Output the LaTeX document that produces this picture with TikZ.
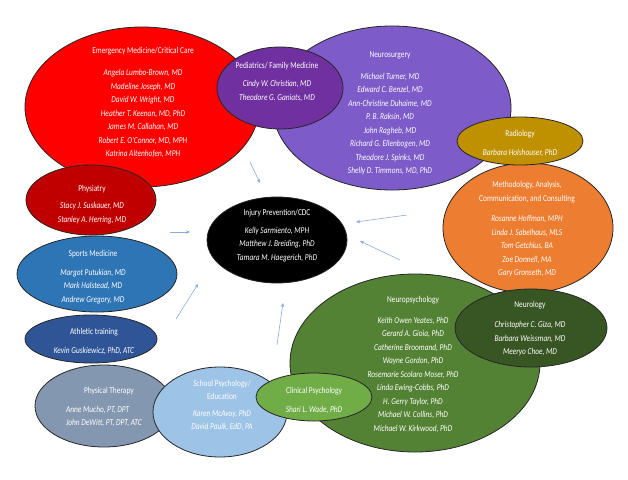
\documentclass[tikz,border=0pt]{standalone}
\usepackage{fontspec}
\setmainfont{Carlito}[FakeStretch=0.82]
\usetikzlibrary{shapes.geometric,arrows.meta}
\definecolor{EmRed}{HTML}{FF0000}
\definecolor{PedPurple}{HTML}{7030A0}
\definecolor{NsPurple}{HTML}{7D5BC8}
\definecolor{RadGold}{HTML}{BF9000}
\definecolor{MethOrange}{HTML}{ED7D31}
\definecolor{PhysRed}{HTML}{C00000}
\definecolor{SportBlue}{HTML}{2E75B6}
\definecolor{AthBlue}{HTML}{2F5597}
\definecolor{PtGray}{HTML}{8497B0}
\definecolor{SchBlue}{HTML}{9DC3E6}
\definecolor{ClinGreen}{HTML}{70AD47}
\definecolor{NpsyGreen}{HTML}{548235}
\definecolor{NeuroGreen}{HTML}{375623}
\definecolor{ArrowBlue}{HTML}{8FAADC}
\newcommand{\nm}[1]{\textit{#1}}

\begin{document}
\begin{tikzpicture}[x=1pt, y=-1pt, every node/.style={font=\fontsize{9}{13.5}\selectfont}]
    \tikzstyle{blob}=[draw=black!85, line width=0.8pt, ellipse, inner sep=0pt]
    \tikzstyle{txt}=[text=white, align=center, inner sep=0pt]
    \tikzstyle{arw}=[-{Stealth[length=4pt,width=3.5pt]}, ArrowBlue, line width=0.6pt]
    \useasboundingbox (0,0) rectangle (628,479);
    % ovals, back to front
    \node[blob, fill=EmRed, minimum width=234pt, minimum height=160pt] (em) at (142,107) {};
    \node[blob, fill=NsPurple, minimum width=238pt, minimum height=164pt] (ns) at (392,108) {};
    \node[blob, fill=PedPurple, minimum width=126pt, minimum height=82pt] (ped) at (280,88) {};
    \node[blob, fill=MethOrange, minimum width=170pt, minimum height=130pt] (meth) at (528,228) {};
    \node[blob, fill=RadGold, minimum width=126pt, minimum height=48pt] (rad) at (520,141) {};
    \node[blob, fill=PhysRed, minimum width=130pt, minimum height=70pt] (phys) at (91,200) {};
    \node[blob, fill=SportBlue, minimum width=160pt, minimum height=76pt] (sport) at (97,274) {};
    \node[blob, fill=AthBlue, minimum width=132pt, minimum height=48pt] (ath) at (91,339) {};
    \node[blob, fill=NpsyGreen, minimum width=250pt, minimum height=178pt] (npsy) at (415,363) {};
    \node[blob, fill=NeuroGreen, minimum width=152pt, minimum height=78pt] (neuro) at (531,328) {};
    \node[blob, fill=PtGray, minimum width=138pt, minimum height=82pt] (pt) at (104,406) {};
    \node[blob, fill=SchBlue, minimum width=134pt, minimum height=90pt] (sch) at (220,412) {};
    \node[blob, fill=ClinGreen, minimum width=116pt, minimum height=48pt] (clin) at (314,397) {};
    \node[blob, fill=black, minimum width=140pt, minimum height=86pt] (inj) at (277,240) {};
    % texts
    \node[txt] (emt) at (143,102.5) {Emergency Medicine/Critical Care\\[9pt]\nm{Angela Lumbo-Brown, MD}\\\nm{Madeline Joseph, MD}\\\nm{David W. Wright, MD}\\\nm{Heather T. Keenan, MD, PhD}\\\nm{James M. Callahan, MD}\\\nm{Robert E. O'Connor, MD, MPH}\\\nm{Katrina Altenhofen, MPH}};
    \node[txt] (nst) at (390,113.5) {Neurosurgery\\[8pt]\nm{Michael Turner, MD}\\\nm{Edward C. Benzel, MD}\\\nm{Ann-Christine Duhaime, MD}\\\nm{P. B. Raksin, MD}\\\nm{John Ragheb, MD}\\\nm{Richard G. Ellenbogen, MD}\\\nm{Theodore J. Spinks, MD}\\\nm{Shelly D. Timmons, MD, PhD}};
    \node[txt] (pedt) at (277,81.5) {Pediatrics/ Family Medicine\\[5pt]\nm{Cindy W. Christian, MD}\\\nm{Theodore G. Ganiats, MD}};
    \node[txt] (radt) at (520,143.5) {Radiology\\[5pt]\nm{Barbara Holshouser, PhD}};
    \node[txt] (metht) at (527,229.5) {Methodology, Analysis,\\Communication, and Consulting\\[7pt]\nm{Rosanne Hoffman, MPH}\\\nm{Linda J. Sabelhaus, MLS}\\\nm{Tom Getchius, BA}\\\nm{Zoe Donnell, MA}\\\nm{Gary Gronseth, MD}};
    \node[txt] (injt) at (277,235.5) {Injury Prevention/CDC\\[4pt]\nm{Kelly Sarmiento, MPH}\\\nm{Matthew J. Breiding, PhD}\\\nm{Tamara M. Haegerich, PhD}};
    \node[txt] (physt) at (92,204.5) {Physiatry\\[4pt]\nm{Stacy J. Suskauer, MD}\\\nm{Stanley A. Herring, MD}};
    \node[txt] (sportt) at (93,277) {Sports Medicine\\[5pt]\nm{Margot Putukian, MD}\\\nm{Mark Halstead, MD}\\\nm{Andrew Gregory, MD}};
    \node[txt] (atht) at (94,341.5) {Athletic training\\[5pt]\nm{Kevin Guskiewicz, PhD, ATC}};
    \node[txt, align=left] (ptt) at (104,407) {\hspace*{18pt}Physical Therapy\\[5pt]\nm{Anne Mucho, PT, DPT}\\\nm{John DeWitt, PT, DPT, ATC}};
    \node[txt] (scht) at (222,405.5) {School Psychology/\\Education\\[3pt]\nm{Karen McAvoy, PhD}\\\nm{David Paulk, EdD, PA}};
    \node[txt] (clint) at (314,400.5) {Clinical Psychology\\[5pt]\nm{Shari L. Wade, PhD}};
    \node[txt] (npsyt) at (413,364.5) {Neuropsychology\\[7pt]\nm{Keith Owen Yeates, PhD}\\\nm{Gerard A. Gioia, PhD}\\\nm{Catherine Broomand, PhD}\\\nm{Wayne Gordon, PhD}\\\nm{Rosemarie Scolaro Moser, PhD}\\\nm{Linda Ewing-Cobbs, PhD}\\\nm{H. Gerry Taylor, PhD}\\\nm{Michael W. Collins, PhD}\\\nm{Michael W. Kirkwood, PhD}};
    \node[txt] (neurot) at (530,328.5) {Neurology\\[7pt]\nm{Christopher C. Giza, MD}\\\nm{Barbara Weissman, MD}\\\nm{Meeryo Choe, MD}};
    % arrows toward the centre
    \coordinate (topS) at (250,162);   \coordinate (topE) at (260,183);
    \coordinate (leftS) at (170,232);  \coordinate (leftE) at (190,232);
    \coordinate (llS) at (176,319);    \coordinate (llE) at (198,284);
    \coordinate (botS) at (277,345);   \coordinate (botE) at (283,303);
    \coordinate (rtS) at (407,215);    \coordinate (rtE) at (356,222);
    \coordinate (rbS) at (400,260);    \coordinate (rbE) at (360,241);
    \draw[arw] (topS) -- (topE);
    \draw[arw] (leftS) -- (leftE);
    \draw[arw] (llS) -- (llE);
    \draw[arw] (botS) -- (botE);
    \draw[arw] (rtS) -- (rtE);
    \draw[arw] (rbS) -- (rbE);
\end{tikzpicture}
\end{document}
